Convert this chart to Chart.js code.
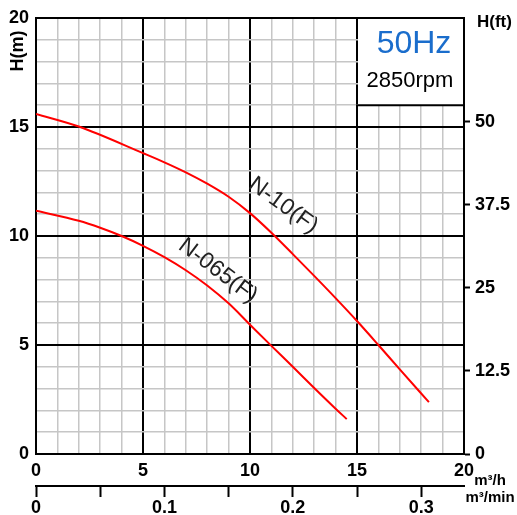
<!DOCTYPE html>
<html>
<head>
<meta charset="utf-8">
<script src="https://cdn.jsdelivr.net/npm/chart.js@4.4.0/dist/chart.umd.min.js"></script>
<style>
  html, body { margin: 0; padding: 0; background: #fff; }
  #wrap { width: 517px; height: 515px; }
</style>
</head>
<body>
<div id="wrap"><canvas id="pump-chart" width="517" height="515"></canvas></div>
<script>
// flow in m3/h, head in m
var flowN10 = [0, 2, 5, 6, 7, 8, 9, 10, 11, 12, 13, 14, 15, 16, 17, 18.36];
var headN10 = [15.6, 15.02, 13.8, 13.38, 12.92, 12.4, 11.8, 11.05, 10.15, 9.17, 8.17, 7.15, 6.1, 5.0, 3.88, 2.38];
var flowN065 = [0, 2, 3, 4, 5, 6, 7, 8, 9, 10, 11, 12, 13, 14, 14.52];
var headN065 = [11.16, 10.7, 10.38, 10.0, 9.55, 9.03, 8.43, 7.73, 6.91, 5.93, 4.96, 4.0, 3.03, 2.08, 1.6];
var seriesNames = ['N-10(F)', 'N-065(F)'];
var ftTicks = [0, 12.5, 25, 37.5, 50];
var minTicks = [0, 0.05, 0.1, 0.15, 0.2, 0.25, 0.3];

var FONT = '"Liberation Sans", Arial, sans-serif';
Chart.defaults.font.family = FONT;
Chart.defaults.color = '#000';

function pts(xs, ys) {
    return xs.map(function (x, i) { return { x: x, y: ys[i] }; });
}

function majorColor(ctx) { return ctx.tick && ctx.tick.value % 5 === 0 ? '#000' : '#c6c6c6'; }
function majorWidth(ctx) { return ctx.tick && ctx.tick.value % 5 === 0 ? 2 : 1.5; }

var tickFont = { size: 18, weight: 'bold' };

var overlay = {
    id: 'overlay',
    beforeDatasetsDraw: function (chart) {
        var c = chart.ctx, sx = chart.scales.x, sy = chart.scales.y;
        var x0 = sx.getPixelForValue(15), x1 = sx.getPixelForValue(20);
        var y0 = sy.getPixelForValue(20), y1 = sy.getPixelForValue(16);
        c.save();
        c.fillStyle = '#fff';
        c.fillRect(x0 + 1, y0 + 1, x1 - x0 - 2, y1 - y0 - 1);
        c.strokeStyle = '#000';
        c.lineWidth = 2;
        c.beginPath();
        c.moveTo(x0 - 1, y1);
        c.lineTo(x1 + 1, y1);
        c.stroke();
        c.textAlign = 'center';
        c.textBaseline = 'middle';
        c.fillStyle = '#1a6dcc';
        c.font = '32px ' + FONT;
        c.fillText('50Hz', 414, 44);
        c.fillStyle = '#000';
        c.font = '22px ' + FONT;
        c.fillText('2850rpm', 410, 81);
        c.restore();
    },
    afterDraw: function (chart) {
        var c = chart.ctx, sx = chart.scales.x, sy = chart.scales.y;
        c.save();
        c.fillStyle = '#222';
        c.font = '23px ' + FONT;
        c.textAlign = 'center';
        c.textBaseline = 'middle';
        [[seriesNames[0], 11.56, 11.4, 36], [seriesNames[1], 8.5, 8.4, 37]].forEach(function (l) {
            c.save();
            c.translate(sx.getPixelForValue(l[1]), sy.getPixelForValue(l[2]));
            c.rotate(l[3] * Math.PI / 180);
            c.fillText(l[0], 0, 0);
            c.restore();
        });

        c.fillStyle = '#000';
        c.font = 'bold 18px ' + FONT;
        c.save();
        c.translate(18, 51);
        c.rotate(-Math.PI / 2);
        c.fillText('H(m)', 0, 0);
        c.restore();

        c.textAlign = 'left';
        c.font = 'bold 17px ' + FONT;
        c.fillText('H(ft)', 477, 22);

        c.textAlign = 'center';
        c.font = 'bold 15px ' + FONT;
        c.fillText('m\u00b3/h', 490, 481);
        c.fillText('m\u00b3/min', 490, 498);
        c.restore();
    }
};

new Chart(document.getElementById('pump-chart'), {
    type: 'scatter',
    data: {
        datasets: [
            { label: seriesNames[0], data: pts(flowN10, headN10), showLine: true, borderColor: '#ff0000', borderWidth: 2, pointRadius: 0, cubicInterpolationMode: 'monotone', xAxisID: 'x', yAxisID: 'y' },
            { label: seriesNames[1], data: pts(flowN065, headN065), showLine: true, borderColor: '#ff0000', borderWidth: 2, pointRadius: 0, cubicInterpolationMode: 'monotone', xAxisID: 'x', yAxisID: 'y' }
        ]
    },
    options: {
        responsive: false,
        animation: false,
        layout: { padding: { top: 18, left: 0, right: 0, bottom: 0 } },
        plugins: { legend: { display: false }, tooltip: { enabled: false } },
        scales: {
            x: {
                type: 'linear', position: 'bottom', weight: 0, min: 0, max: 20,
                ticks: { stepSize: 1, autoSkip: false, maxRotation: 0, padding: 6, font: tickFont, color: '#000',
                    callback: function (v) { return v % 5 === 0 ? String(v) : ''; } },
                grid: { color: majorColor, lineWidth: majorWidth, drawTicks: false },
                border: { color: '#000', width: 2 },
                afterFit: function (s) { s.height = 32; }
            },
            x2: {
                type: 'linear', position: 'bottom', weight: 1, min: 0, max: 20 / 60,
                afterBuildTicks: function (s) { s.ticks = minTicks.map(function (v) { return { value: v }; }); },
                ticks: { autoSkip: false, maxRotation: 0, padding: 0, font: tickFont, color: '#000',
                    callback: function (v) {
                        var r = Math.round(v * 100);
                        if (r % 10 !== 0) return '';
                        return r === 0 ? '0' : (r / 100).toFixed(1);
                    } },
                grid: { drawOnChartArea: false, drawTicks: true, tickLength: 11, tickWidth: 2, tickColor: '#000' },
                border: { color: '#000', width: 2 },
                afterFit: function (s) { s.height = 29; }
            },
            y: {
                type: 'linear', position: 'left', min: 0, max: 20,
                ticks: { stepSize: 1, autoSkip: false, padding: 7, font: tickFont, color: '#000',
                    callback: function (v) { return v % 5 === 0 ? String(v) : ''; } },
                grid: { color: majorColor, lineWidth: majorWidth, drawTicks: false },
                border: { color: '#000', width: 2 },
                afterFit: function (s) { s.width = 36; }
            },
            y2: {
                type: 'linear', position: 'right', min: 0, max: 20 / 0.3048,
                afterBuildTicks: function (s) { s.ticks = ftTicks.map(function (v) { return { value: v }; }); },
                ticks: { autoSkip: false, padding: 5, font: tickFont, color: '#000',
                    callback: function (v) { return String(v); } },
                grid: { drawOnChartArea: false, drawTicks: true, tickLength: 6, tickWidth: 2, tickColor: '#000' },
                border: { color: '#000', width: 2 },
                afterFit: function (s) { s.width = 53; }
            }
        }
    },
    plugins: [overlay]
});
</script>
</body>
</html>
